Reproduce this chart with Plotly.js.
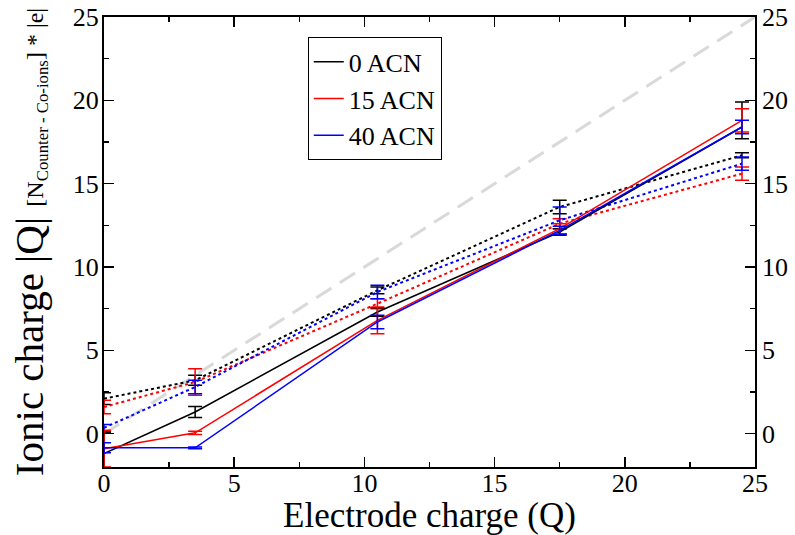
<!DOCTYPE html>
<html>
<head>
<meta charset="utf-8">
<script src="https://cdn.plot.ly/plotly-3.0.1.min.js"></script>
<style>html,body{margin:0;padding:0;background:#fff;}#chart{width:795px;height:535px;}</style>
</head>
<body>
<div id="chart"></div>
<script>
// Electrode charge (Q)
const xCharge = [0, 3.5, 10.5, 17.5, 24.5];

// Solid lines (legend series)
const solid0 = [-1.2, 1.3, 7.3, 12.1, 18.4];
const solid0ErrPlus = [1.25, 0.33, 0.25, 0.2, 1.5];
const solid0ErrMinus = [1.25, 0.33, 0.25, 0.2, 0.7];
const solid15 = [-0.9, 0.05, 6.8, 12.3, 18.8];
const solid15Err = [1.1, 0.1, 0.8, 0.3, 0.7];
const solid40 = [-0.85, -0.85, 6.7, 12.2, 18.4];
const solid40Err = [0.3, 0.05, 0.4, 0.25, 0.4];

// Dotted lines
const dot0 = [2.1, 3.2, 8.6, 13.6, 16.7];
const dot0Err = [0.35, 0.3, 0.2, 0.4, 0.15];
const dot15 = [1.6, 3.1, 7.8, 12.6, 15.6];
const dot15Err = [0.4, 0.8, 0.3, 0.3, 0.4];
const dot40 = [0.35, 2.8, 8.5, 12.8, 16.2];
const dot40Err = [0.2, 0.4, 0.4, 0.8, 0.4];

// Reference diagonal
const diagX = [0, 25];
const diagY = [0, 25];

const names = ['0 ACN', '15 ACN', '40 ACN'];
const colors = ['#000000', '#ff0000', '#0000ff'];

function errObj(plus, minus, color) {
  const e = {type: 'data', array: plus, visible: true, color: color, thickness: 1.5, width: 7};
  if (minus) { e.symmetric = false; e.arrayminus = minus; }
  return e;
}

const traces = [
  {x: diagX, y: diagY, mode: 'lines', line: {color: '#d9d9d9', width: 3, dash: '18px,10px'}, showlegend: false, hoverinfo: 'skip'},
  {x: xCharge, y: dot0, mode: 'lines', line: {color: colors[0], width: 2, dash: '3px,3px'}, error_y: errObj(dot0Err, null, colors[0]), showlegend: false},
  {x: xCharge, y: dot15, mode: 'lines', line: {color: colors[1], width: 2, dash: '3px,3px'}, error_y: errObj(dot15Err, null, colors[1]), showlegend: false},
  {x: xCharge, y: dot40, mode: 'lines', line: {color: colors[2], width: 2, dash: '3px,3px'}, error_y: errObj(dot40Err, null, colors[2]), showlegend: false},
  {x: xCharge, y: solid0, name: names[0], mode: 'lines', line: {color: colors[0], width: 1.5}, error_y: errObj(solid0ErrPlus, solid0ErrMinus, colors[0])},
  {x: xCharge, y: solid15, name: names[1], mode: 'lines', line: {color: colors[1], width: 1.5}, error_y: errObj(solid15Err, null, colors[1])},
  {x: xCharge, y: solid40, name: names[2], mode: 'lines', line: {color: colors[2], width: 1.5}, error_y: errObj(solid40Err, null, colors[2])},
  {x: [null], y: [null], yaxis: 'y2', showlegend: false, hoverinfo: 'skip'}
];

const fam = '"Liberation Serif", serif';
function f(size) { return {family: fam, size: size, color: '#000'}; }

const axisCommon = {
  showgrid: false, zeroline: false, showline: true, linecolor: '#000', linewidth: 2,
  ticks: 'inside', ticklen: 10, tickwidth: 1.5, tickcolor: '#000',
  tickfont: f(26),
  minor: {ticks: 'inside', ticklen: 5, tickwidth: 1.5, tickcolor: '#000', dtick: 2.5, showgrid: false}
};

const layout = {
  width: 795, height: 535,
  margin: {l: 104, r: 40, t: 17, b: 68},
  paper_bgcolor: '#fff', plot_bgcolor: '#fff',
  font: f(16),
  showlegend: true,
  legend: {
    x: 0.313, y: 0.955, xanchor: 'left', yanchor: 'top',
    bgcolor: '#fff', bordercolor: '#000', borderwidth: 1,
    font: f(26), tracegroupgap: 0
  },
  xaxis: Object.assign({}, axisCommon, {
    range: [0, 25], tick0: 0, dtick: 5, mirror: 'ticks', ticklabelstandoff: -8,
    title: {text: 'Electrode charge (Q)', font: f(35), standoff: 0}
  }),
  yaxis: Object.assign({}, axisCommon, {
    range: [-2, 25], tick0: 0, dtick: 5, mirror: 'ticks', ticklabelstandoff: -2,
    title: {text: "Ionic charge |Q| <span style='font-size:24px'>[N<sub>Counter - Co-ions</sub>] * |e|</span>", font: f(41), standoff: 16}
  }),
  yaxis2: Object.assign({}, axisCommon, {
    range: [-2, 25], tick0: 0, dtick: 5, overlaying: 'y', side: 'right', showline: false, ticklabelstandoff: 6
  })
};

Plotly.newPlot('chart', traces, layout, {staticPlot: true, displayModeBar: false});
</script>
</body>
</html>
